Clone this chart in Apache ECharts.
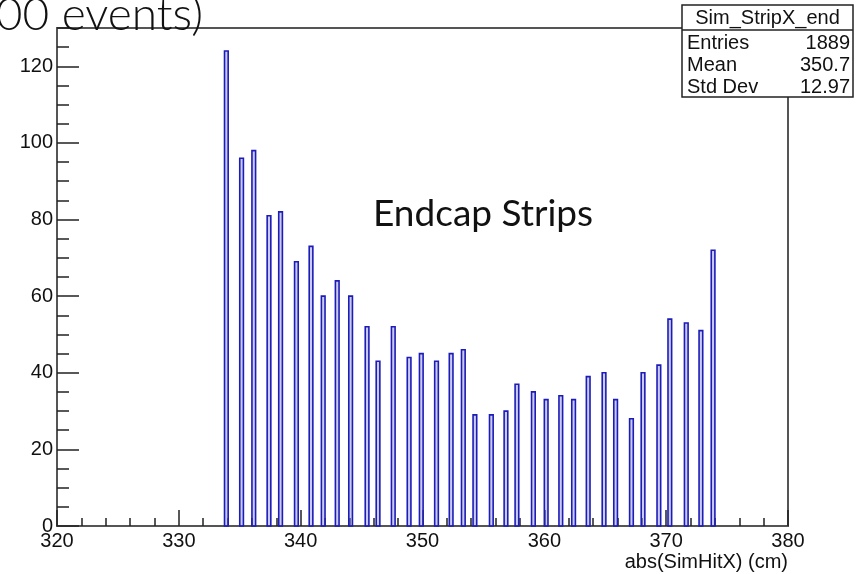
<!DOCTYPE html>
<html>
<head>
<meta charset="utf-8">
<script src="https://cdn.jsdelivr.net/npm/echarts@6/dist/echarts.min.js"></script>
<style>
  html, body { margin: 0; padding: 0; background: #fff; }
  #chart { width: 858px; height: 574px; }
</style>
</head>
<body>
<div id="chart"></div>
<script>
// Strip hit positions (bin centres, cm) and entries per bin
const binCenters = [
  333.9, 335.15, 336.15, 337.4, 338.35, 339.65, 340.85, 341.85, 343.0,
  344.1, 345.45, 346.35, 347.6, 348.9, 349.9, 351.15, 352.35, 353.35,
  354.3, 355.65, 356.85, 357.75, 359.1, 360.15, 361.35, 362.4, 363.6,
  364.9, 365.85, 367.15, 368.1, 369.4, 370.3, 371.65, 372.85, 373.85
];
const binCounts = [
  124, 96, 98, 81, 82, 69, 73, 60, 64,
  60, 52, 43, 52, 44, 45, 43, 45, 46,
  29, 29, 30, 37, 35, 33, 34, 33, 39,
  40, 33, 28, 40, 42, 54, 53, 51, 72
];
const binWidth = 0.3;

// Axis settings
const xRange = [320, 380];
const yRange = [0, 130];

// Statistics box
const statsTitle = 'Sim_StripX_end';
const statsLabels = ['Entries', 'Mean', 'Std Dev'];
const statsValues = ['1889', '350.7', '12.97'];

const headText = '00 events)';
const noteText = 'Endcap Strips';
const xTitle = 'abs(SimHitX) (cm)';

const labelFont = '"Liberation Sans", Arial, Helvetica, sans-serif';
const slideFont = 'Lato, "Open Sans", sans-serif';
const frameColor = '#555';

const chart = echarts.init(document.getElementById('chart'), null, { renderer: 'canvas' });

const data = binCenters.map((c, i) => [c, binCounts[i]]);

function renderBin(params, api) {
  const c = api.value(0);
  const v = api.value(1);
  const pTop = api.coord([c - binWidth / 2, v]);
  const pBot = api.coord([c + binWidth / 2, 0]);
  return {
    type: 'rect',
    shape: { x: pTop[0], y: pTop[1], width: pBot[0] - pTop[0], height: pBot[1] - pTop[1] },
    style: { fill: 'rgba(140,140,225,0.45)', stroke: '#1c1cb8', lineWidth: 1.6 }
  };
}

const statsRows = [];
statsLabels.forEach((lab, i) => {
  const y = 43 + i * 22;
  statsRows.push({
    type: 'text', x: 687, y: y, z: 101,
    style: { text: lab, font: '20px ' + labelFont, fill: '#111', align: 'left', verticalAlign: 'middle' }
  });
  statsRows.push({
    type: 'text', x: 850, y: y, z: 101,
    style: { text: statsValues[i], font: '20px ' + labelFont, fill: '#111', align: 'right', verticalAlign: 'middle' }
  });
});

const option = {
  backgroundColor: '#fff',
  animation: false,
  grid: {
    left: 57, right: 70, top: 28, bottom: 48,
    show: true, borderColor: frameColor, borderWidth: 2, backgroundColor: 'transparent'
  },
  xAxis: [
    {
      type: 'value', position: 'bottom', min: xRange[0], max: xRange[1], interval: 10,
      axisLine: { show: true, onZero: false, lineStyle: { color: frameColor, width: 2 } },
      axisTick: { show: true, inside: true, length: 16, lineStyle: { color: '#222', width: 1.5 } },
      axisLabel: { show: true, margin: 5, fontSize: 20, fontFamily: labelFont, color: '#111' },
      splitLine: { show: false }
    },
    {
      type: 'value', position: 'bottom', min: xRange[0], max: xRange[1], interval: 2,
      axisLine: { show: false },
      axisTick: { show: true, inside: true, length: 8, lineStyle: { color: '#222', width: 1.5 } },
      axisLabel: { show: false },
      splitLine: { show: false }
    }
  ],
  yAxis: [
    {
      type: 'value', position: 'left', min: yRange[0], max: yRange[1], interval: 20,
      axisLine: { show: true, onZero: false, lineStyle: { color: frameColor, width: 2 } },
      axisTick: { show: true, inside: true, length: 22, lineStyle: { color: '#222', width: 1.5 } },
      axisLabel: { show: true, margin: 4, fontSize: 20, fontFamily: labelFont, color: '#111', showMaxLabel: false },
      splitLine: { show: false }
    },
    {
      type: 'value', position: 'left', offset: 0, min: yRange[0], max: yRange[1], interval: 5,
      axisLine: { show: false },
      axisTick: { show: true, inside: true, length: 12, lineStyle: { color: '#222', width: 1.5 } },
      axisLabel: { show: false },
      splitLine: { show: false }
    }
  ],
  series: [
    {
      type: 'custom',
      xAxisIndex: 0,
      yAxisIndex: 0,
      renderItem: renderBin,
      encode: { x: 0, y: 1 },
      data: data,
      z: 5
    }
  ],
  graphic: [
    {
      type: 'text', x: 203, y: 15, z: 50,
      style: { text: headText, font: '300 46px ' + slideFont, fill: '#111', align: 'right', verticalAlign: 'middle' }
    },
    {
      type: 'text', x: 373, y: 214, z: 50,
      style: { text: noteText, font: '37px ' + slideFont, fill: '#111', align: 'left', verticalAlign: 'middle' }
    },
    {
      type: 'text', x: 788, y: 562, z: 50,
      style: { text: xTitle, font: '20px ' + labelFont, fill: '#111', align: 'right', verticalAlign: 'middle' }
    },
    {
      type: 'rect', z: 100,
      shape: { x: 682, y: 5, width: 171, height: 92 },
      style: { fill: '#fff', stroke: '#222', lineWidth: 1.5 }
    },
    {
      type: 'line', z: 101,
      shape: { x1: 682, y1: 30, x2: 853, y2: 30 },
      style: { stroke: '#222', lineWidth: 1.5 }
    },
    {
      type: 'text', x: 767.5, y: 18, z: 101,
      style: { text: statsTitle, font: '20px ' + labelFont, fill: '#111', align: 'center', verticalAlign: 'middle' }
    }
  ].concat(statsRows)
};

chart.setOption(option);
</script>
</body>
</html>
